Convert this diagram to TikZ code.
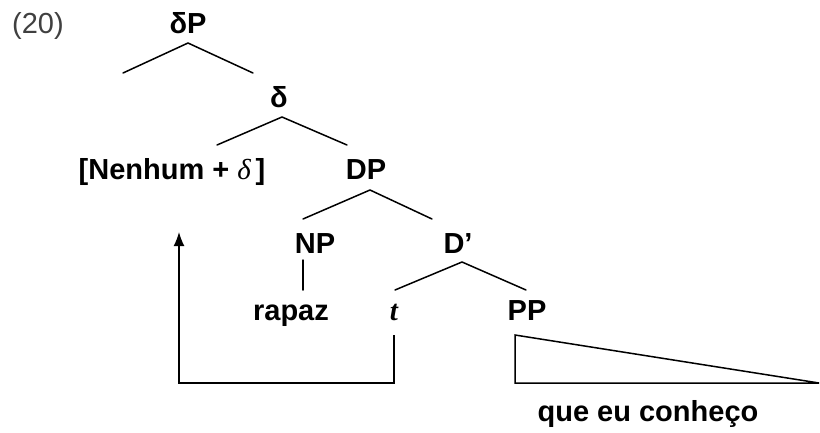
\documentclass[tikz,border=0pt]{standalone}
\usepackage{fontspec}
\setmainfont{Liberation Sans}
\newfontfamily\serifit{Liberation Serif}
\usetikzlibrary{arrows.meta}
\begin{document}
\begin{tikzpicture}[x=1pt,y=-1pt,
  lbl/.style={font=\fontsize{29}{34}\selectfont\bfseries,anchor=base,inner sep=0pt},
  branch/.style={line width=1.5pt,line cap=round},
  move/.style={line width=1.5pt,-{Latex[length=14pt,width=11pt]}}]
\useasboundingbox (0,0) rectangle (820,432);
\node[font=\fontsize{29}{34}\selectfont,text=black!75,anchor=base,inner sep=0pt] (ex) at (38,33) {(20)};
% labels
\node[lbl] (dP) at (188,33) {δP};
\node[lbl] (d) at (279,107) {δ};
\node[lbl] (nen) at (172,179) {[Nenhum + {\normalfont\serifit\itshape δ}\,]};
\node[lbl] (DP) at (366,179) {DP};
\node[lbl] (NP) at (315,253) {NP};
\node[lbl] (Dbar) at (458,253) {D’};
\node[lbl] (rapaz) at (291,320) {rapaz};
\node[lbl] (t) at (394,320) {\serifit\bfseries\itshape t};
\node[lbl] (PP) at (527,320) {PP};
\node[lbl] (que) at (648,421) {que eu conheço};
% branch ends
\coordinate (spec) at (123,73);
\coordinate (dR) at (253,73);
\coordinate (nenR) at (217,145);
\coordinate (DPR) at (347,145);
\coordinate (NPL) at (303,219);
\coordinate (DbarR) at (432,219);
\coordinate (tR) at (395,290);
\coordinate (PPR) at (526,290);
\coordinate (landing) at (179,232);
% tree
\draw[branch] (spec) -- ([yshift=-10pt]dP.base) -- (dR);
\draw[branch] (nenR) -- ([xshift=3pt,yshift=-10pt]d.base) -- (DPR);
\draw[branch] (NPL) -- ([xshift=4pt,yshift=-11pt]DP.base) -- (DbarR);
\draw[branch] ([xshift=-12pt,yshift=-7pt]NP.base) -- ([xshift=12pt,yshift=30pt]rapaz.base);
\draw[branch] (tR) -- ([xshift=4pt,yshift=-9pt]Dbar.base) -- (PPR);
\draw[line width=1.5pt] ([shift={(-12,15)}]PP.base) -- ++(0,48) -- (819,383) -- cycle;
% movement
\draw[move] ([yshift=-15pt]t.base) -- ++(0,48) -| (landing);
\end{tikzpicture}
\end{document}
